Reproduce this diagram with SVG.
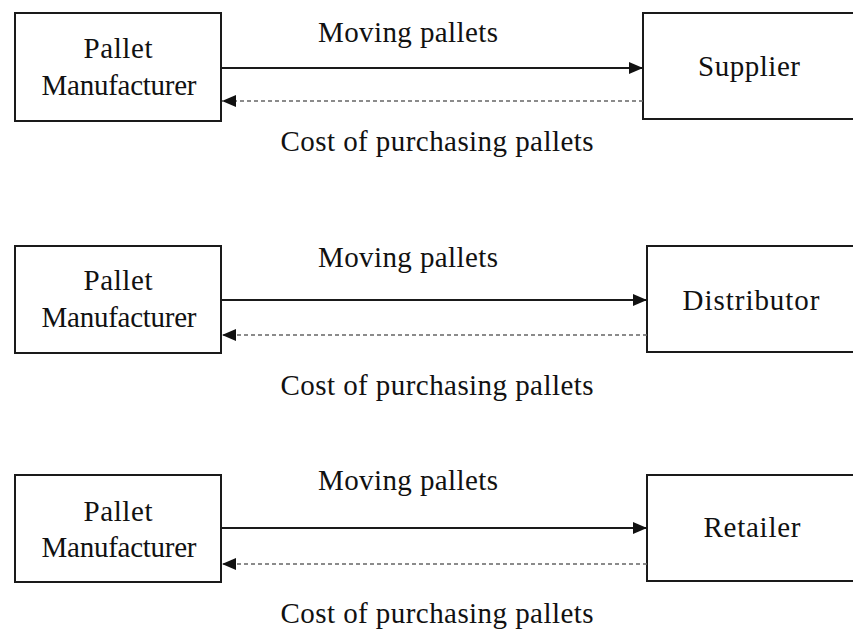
<svg xmlns="http://www.w3.org/2000/svg" width="853" height="629" viewBox="0 0 853 629">
  <style>
    .box { fill: #ffffff; stroke: #1a1a1a; stroke-width: 2; }
    .lbl { font-family: "Liberation Serif", "Times New Roman", serif; font-size: 29px; fill: #111111; text-anchor: middle; }
    .flow { stroke: #1a1a1a; stroke-width: 2; fill: none; }
    .pay { stroke: #666666; stroke-width: 1.6; stroke-dasharray: 4 3; fill: none; }
  </style>
  <defs>
    <marker id="head" viewBox="0 0 14 12" refX="14" refY="6" markerWidth="14" markerHeight="12" markerUnits="userSpaceOnUse" orient="auto">
      <path d="M0,0 L14,6 L0,12 Z" fill="#111111"/>
    </marker>
  </defs>
  <rect width="853" height="629" fill="#ffffff"/>

  <!-- Row 1: manufacturer and supplier -->
  <g id="manufacturer-1">
    <rect class="box" x="15" y="13" width="206" height="108"/>
    <text class="lbl" x="118" y="58" textLength="69">Pallet</text>
    <text class="lbl" x="119" y="95" textLength="155">Manufacturer</text>
  </g>
  <g id="supplier">
    <rect class="box" x="643" y="13" width="220" height="106"/>
    <text class="lbl" x="749" y="76" textLength="102">Supplier</text>
  </g>

  <!-- Row 2: manufacturer and distributor -->
  <g id="manufacturer-2">
    <rect class="box" x="15" y="246" width="206" height="107"/>
    <text class="lbl" x="118" y="290" textLength="69">Pallet</text>
    <text class="lbl" x="119" y="327" textLength="155">Manufacturer</text>
  </g>
  <g id="distributor">
    <rect class="box" x="647" y="246" width="216" height="106"/>
    <text class="lbl" x="751" y="310" textLength="137">Distributor</text>
  </g>

  <!-- Row 3: manufacturer and retailer -->
  <g id="manufacturer-3">
    <rect class="box" x="15" y="475" width="206" height="107"/>
    <text class="lbl" x="118" y="521" textLength="69">Pallet</text>
    <text class="lbl" x="119" y="557" textLength="155">Manufacturer</text>
  </g>
  <g id="retailer">
    <rect class="box" x="647" y="475" width="216" height="106"/>
    <text class="lbl" x="752" y="537" textLength="97">Retailer</text>
  </g>

  <!-- Connectors: pallet flow (solid) and payment (dashed) -->
  <g id="connectors">
    <line class="flow" x1="221" y1="68" x2="643" y2="68" marker-end="url(#head)"/>
    <line class="pay" x1="643" y1="101" x2="222" y2="101" marker-end="url(#head)"/>
    <text class="lbl" x="408" y="42" textLength="180">Moving pallets</text>
    <text class="lbl" x="437" y="151" textLength="313">Cost of purchasing pallets</text>

    <line class="flow" x1="221" y1="300" x2="647" y2="300" marker-end="url(#head)"/>
    <line class="pay" x1="647" y1="335" x2="222" y2="335" marker-end="url(#head)"/>
    <text class="lbl" x="408" y="267" textLength="180">Moving pallets</text>
    <text class="lbl" x="437" y="395" textLength="313">Cost of purchasing pallets</text>

    <line class="flow" x1="221" y1="528" x2="647" y2="528" marker-end="url(#head)"/>
    <line class="pay" x1="647" y1="564" x2="222" y2="564" marker-end="url(#head)"/>
    <text class="lbl" x="408" y="490" textLength="180">Moving pallets</text>
    <text class="lbl" x="437" y="623" textLength="313">Cost of purchasing pallets</text>
  </g>
</svg>
